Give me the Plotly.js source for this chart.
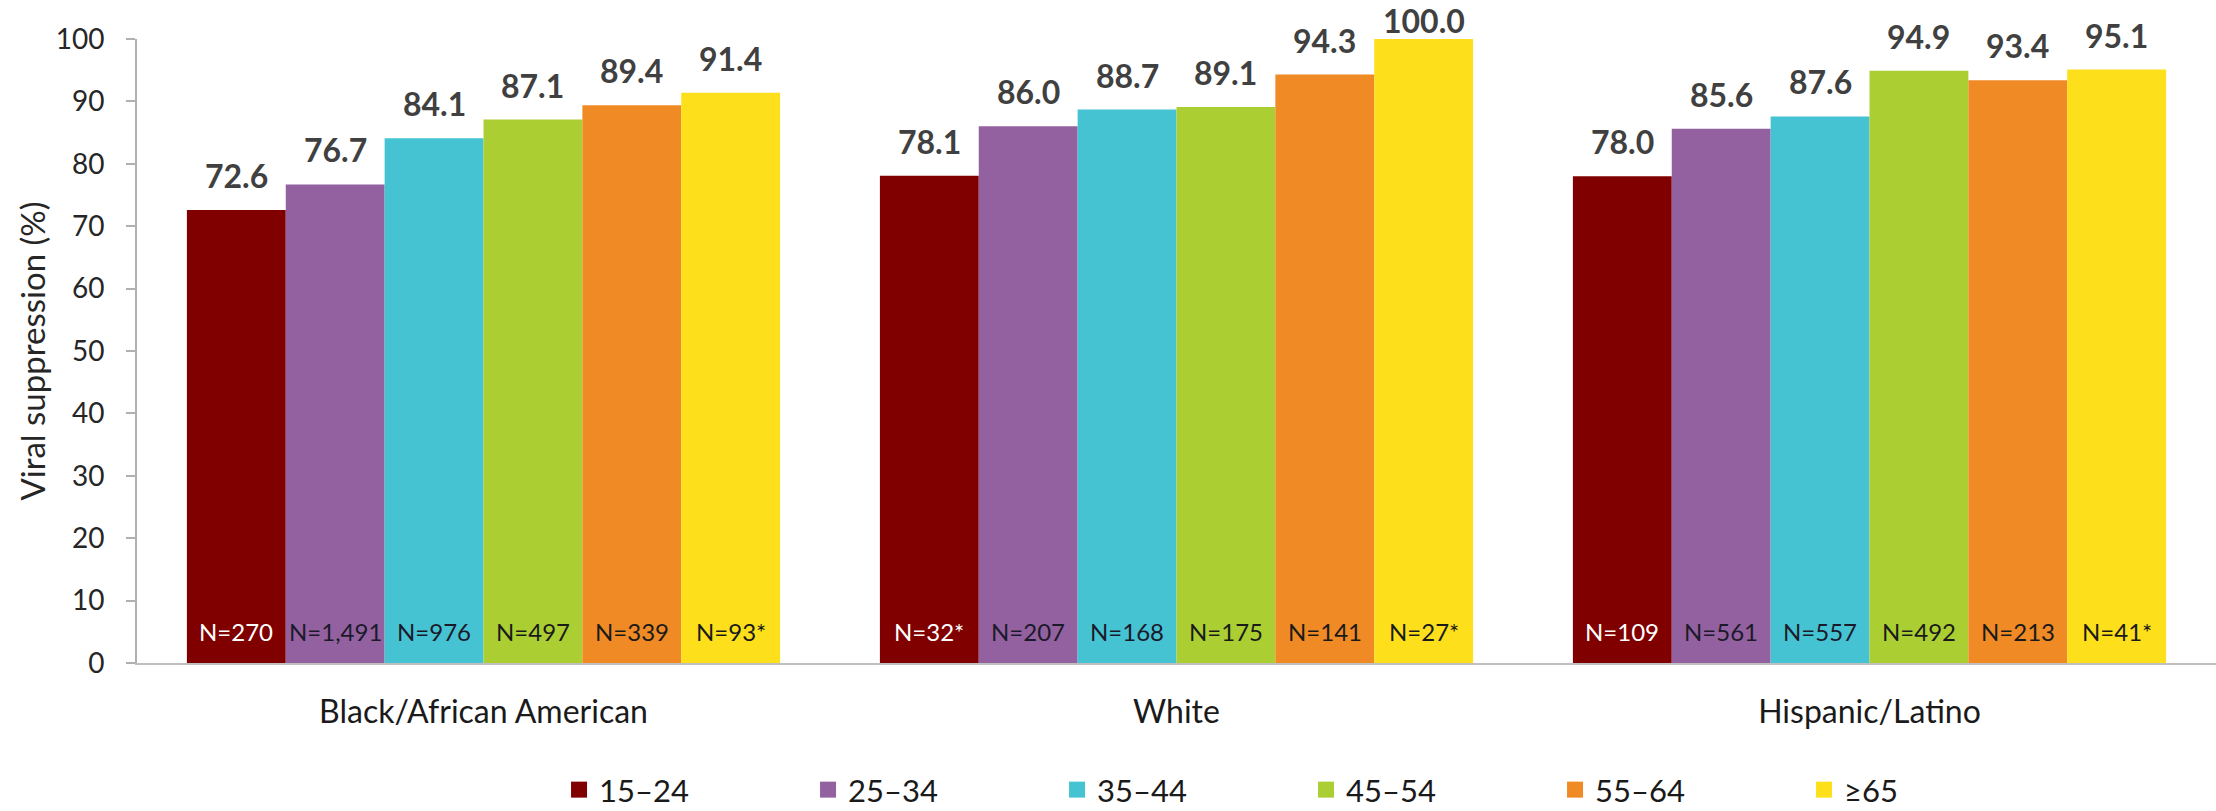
<!DOCTYPE html>
<html><head><meta charset="utf-8">
<script src="https://cdn.plot.ly/plotly-3.0.1.min.js"></script>
<style>html,body{margin:0;padding:0;background:#fff}#chart{width:2216px;height:811px}</style>
</head><body><div id="chart"></div>
<script>
// ---- data ----
const groups = ['Black/African American', 'White', 'Hispanic/Latino'];
const ageGroups = ['15–24', '25–34', '35–44', '45–54', '55–64', '≥65'];

const val_15_24 = [72.6, 78.1, 78.0];
const val_25_34 = [76.7, 86.0, 85.6];
const val_35_44 = [84.1, 88.7, 87.6];
const val_45_54 = [87.1, 89.1, 94.9];
const val_55_64 = [89.4, 94.3, 93.4];
const val_65up  = [91.4, 100.0, 95.1];

const n_15_24 = ['270', '32*', '109'];
const n_25_34 = ['1,491', '207', '561'];
const n_35_44 = ['976', '168', '557'];
const n_45_54 = ['497', '175', '492'];
const n_55_64 = ['339', '141', '213'];
const n_65up  = ['93*', '27*', '41*'];

const series = [val_15_24, val_25_34, val_35_44, val_45_54, val_55_64, val_65up];
const nLabels = [n_15_24, n_25_34, n_35_44, n_45_54, n_55_64, n_65up];

// ---- style ----
const colors = ['#800000', '#9461a0', '#46c3d3', '#abcf33', '#f08a24', '#fde01b'];
const nColors = ['#ffffff', '#1a1a2a', '#1a1a2a', '#1a1a1a', '#1a1a1a', '#1a1a1a'];
const FONT = 'Lato, "Liberation Sans", sans-serif';
const bargap = 0.144;
const yMax = 100;
const plotH = 811 - 39 - 148;
const pxPerUnit = plotH / yMax;

const barTraces = ageGroups.map((name, i) => ({
  type: 'bar',
  name: name,
  legendgroup: name,
  showlegend: false,
  x: groups,
  y: series[i],
  marker: { color: colors[i] },
  hoverinfo: 'skip'
}));

// legend-only entries (square keys like the original)
const legendTraces = ageGroups.map((name, i) => ({
  type: 'scatter',
  mode: 'markers',
  name: name,
  legendgroup: name,
  x: [null],
  y: [null],
  marker: { symbol: 'square', size: 20, color: colors[i] },
  hoverinfo: 'skip'
}));

// value labels stay inside the chart area (like the original), N labels sit at the bar base
function valueShift(v) {
  return Math.min(13, (yMax - v) * pxPerUnit - 3);
}

const annotations = [];
const nS = ageGroups.length;
const bw = (1 - bargap) / nS;
groups.forEach((g, j) => {
  ageGroups.forEach((a, i) => {
    const xc = j - (1 - bargap) / 2 + (i + 0.5) * bw;
    const v = series[i][j];
    annotations.push({
      x: xc, y: v, xref: 'x', yref: 'y',
      text: v.toFixed(1), showarrow: false,
      yanchor: 'bottom', yshift: valueShift(v),
      font: { family: FONT, size: 32, color: '#404040', weight: 'bold' }
    });
    annotations.push({
      x: xc, y: 0, xref: 'x', yref: 'y',
      text: 'N=' + nLabels[i][j], showarrow: false,
      yanchor: 'bottom', yshift: 15,
      font: { family: FONT, size: 24, color: nColors[i] }
    });
  });
});

const layout = {
  width: 2216, height: 811,
  margin: { l: 137, r: 0, t: 39, b: 148, autoexpand: false },
  barmode: 'group', bargap: bargap, bargroupgap: 0,
  paper_bgcolor: '#ffffff', plot_bgcolor: '#ffffff',
  font: { family: FONT, color: '#262626' },
  xaxis: {
    type: 'category', showline: true, linecolor: '#c0c0c0', linewidth: 2,
    ticks: '', showgrid: false, zeroline: false,
    tickfont: { size: 32, color: '#1a1a1a' }, ticklabelstandoff: 20
  },
  yaxis: {
    range: [0, yMax], tick0: 0, dtick: 10,
    showline: true, linecolor: '#b0b0b0', linewidth: 2,
    ticks: 'outside', ticklen: 9, tickwidth: 2, tickcolor: '#b0b0b0',
    showgrid: false, zeroline: false,
    tickfont: { size: 28, color: '#262626' }, ticklabelstandoff: 16,
    title: { text: 'Viral suppression (%)', font: { size: 33, color: '#262626' }, standoff: 0 }
  },
  showlegend: true,
  legend: {
    orientation: 'h', x: 0.203, xanchor: 'left', y: -0.2035, yanchor: 'middle',
    entrywidth: 204, entrywidthmode: 'pixels', traceorder: 'normal',
    itemsizing: 'trace',
    font: { size: 31, color: '#1a1a1a' }
  },
  annotations: annotations
};

Plotly.newPlot('chart', barTraces.concat(legendTraces), layout, { displayModeBar: false, staticPlot: true });
</script>
</body></html>
